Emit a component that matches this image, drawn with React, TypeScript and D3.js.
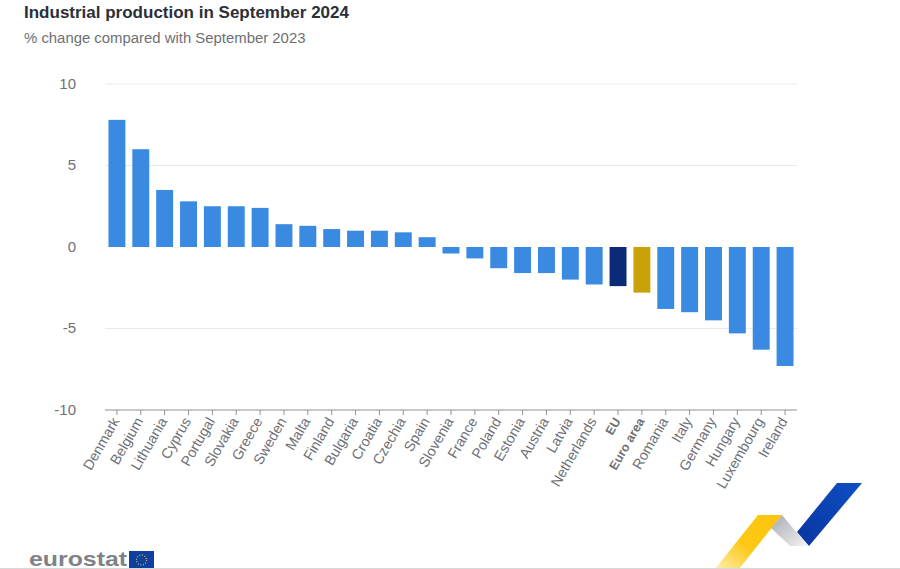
import React from "react";
import * as d3 from "d3";

const countries = ["Denmark","Belgium","Lithuania","Cyprus","Portugal","Slovakia","Greece","Sweden","Malta","Finland","Bulgaria","Croatia","Czechia","Spain","Slovenia","France","Poland","Estonia","Austria","Latvia","Netherlands","EU","Euro area","Romania","Italy","Germany","Hungary","Luxembourg","Ireland"];
const values = [7.8,6.0,3.5,2.8,2.5,2.5,2.4,1.4,1.3,1.1,1.0,1.0,0.9,0.6,-0.4,-0.7,-1.3,-1.6,-1.6,-2.0,-2.3,-2.4,-2.8,-3.8,-4.0,-4.5,-5.3,-6.3,-7.3];
const yTicks = [10,5,0,-5,-10];
const title = "Industrial production in September 2024";
const subtitle = "% change compared with September 2023";
const font = "Liberation Sans, Arial, sans-serif";

export default function App() {
  const x = d3.scaleBand<string>().domain(countries).range([105, 797]).paddingInner(0.29).paddingOuter(0.145);
  const y = d3.scaleLinear().domain([-10, 10]).range([410, 84]);
  const color = (c: string) => c === "EU" ? "#0b2a78" : c === "Euro area" ? "#c9a209" : "#3a8ae2";
  return (
    <svg width={900} height={569} style={{ position: "absolute", left: 0, top: 0, background: "#fff", fontFamily: font }}>
      <defs>
        <linearGradient id="gold" x1="1" y1="0" x2="0" y2="1">
          <stop offset="0" stopColor="#fdc60a" /><stop offset="0.55" stopColor="#fdc814" /><stop offset="1" stopColor="#fdeeb0" />
        </linearGradient>
        <linearGradient id="grey" x1="0" y1="0" x2="1" y2="1">
          <stop offset="0" stopColor="#a9abb0" /><stop offset="1" stopColor="#f2f2f3" />
        </linearGradient>
        <linearGradient id="blue" x1="1" y1="0" x2="0" y2="1">
          <stop offset="0" stopColor="#0d4fc4" /><stop offset="1" stopColor="#0a35a0" />
        </linearGradient>
      </defs>
      <text x={24} y={18} fontSize={17} fontWeight="bold" fill="#2b2f38">{title}</text>
      <text x={24} y={43} fontSize={14.9} fill="#6e7076">{subtitle}</text>
      {yTicks.map(t => (
        <g key={t}>
          {t !== -10 && t !== 0 && <line x1={105} x2={797} y1={y(t)} y2={y(t)} stroke="#e6eaee" strokeWidth={1} />}
          <text x={76} y={y(t) + 4.5} textAnchor="end" fontSize={15} fill="#6e7076">{t}</text>
        </g>
      ))}
      {countries.map((c, i) => {
        const v = values[i];
        return <rect key={c} x={x(c)} width={x.bandwidth()} y={y(Math.max(v, 0))} height={Math.abs(y(v) - y(0))} fill={color(c)} />;
      })}
      <line x1={105} x2={797} y1={410} y2={410} stroke="#8f9196" strokeWidth={1.2} />
      {countries.map(c => {
        const cx = x(c)! + x.bandwidth() / 2;
        const bold = c === "EU" || c === "Euro area";
        return (
          <g key={c}>
            <line x1={cx} x2={cx} y1={410} y2={415} stroke="#8f9196" />
            <text transform={`translate(${cx + 3},${421}) rotate(-60)`} textAnchor="end" fontSize={bold ? 12.5 : 14.3} fontWeight={bold ? "bold" : "normal"} fill="#6e7076">{c}</text>
          </g>
        );
      })}
      <polygon points="715,569 758,515 782,515 739,569" fill="url(#gold)" />
      <polygon points="771,528 782,515 808,546 798,546 790,546" fill="url(#grey)" />
      <polygon points="797,532 837,483 862,483 809,546" fill="url(#blue)" />
      <text x={29} y={566} fontSize={21} fontWeight="bold" fill="#7f8288" textLength={98} lengthAdjust="spacingAndGlyphs">eurostat</text>
      <rect x={129} y={551} width={25} height={18} fill="#0f3f9f" />
      <circle cx={141.5} cy={560} r={5} fill="none" stroke="#d7c24a" strokeWidth={1.2} strokeDasharray="1 1.6" />
      <line x1={0} x2={900} y1={568.5} y2={568.5} stroke="#d8d8d8" />
    </svg>
  );
}
